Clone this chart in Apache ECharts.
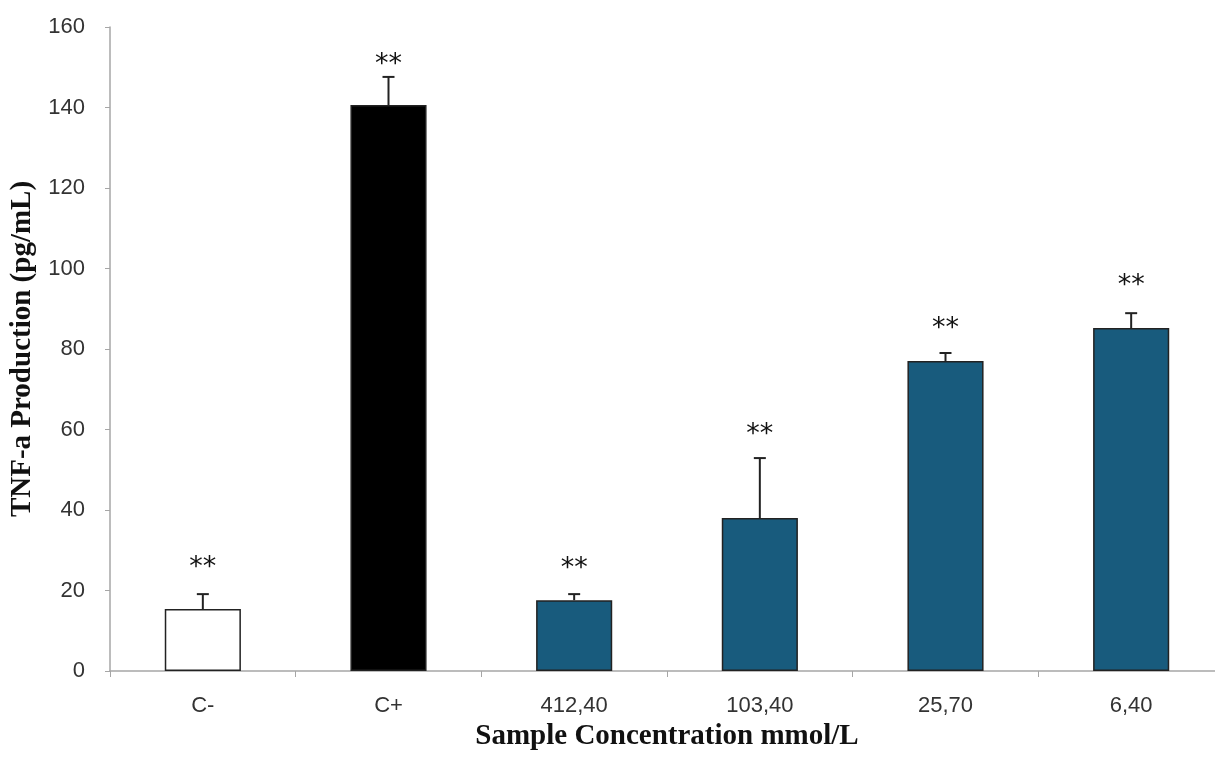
<!DOCTYPE html>
<html>
<head>
<meta charset="utf-8">
<script src="https://cdn.jsdelivr.net/npm/echarts@6/dist/echarts.min.js"></script>
<style>
html,body{margin:0;padding:0;background:#fff;}
#chart{width:1215px;height:758px;}
</style>
</head>
<body>
<div id="chart"></div>
<script>
const categories = ['C-', 'C+', '412,40', '103,40', '25,70', '6,40'];
const means = [15.4, 140.6, 17.6, 38.0, 77.0, 85.2];
const errors = [3.7, 7.0, 1.5, 14.9, 2.0, 3.7];
const significance = ['**', '**', '**', '**', '**', '**'];
const significanceY = [27.0, 152.0, 26.8, 60.1, 86.5, 97.1];
const barColors = ['#ffffff', '#000000', '#185b7d', '#185b7d', '#185b7d', '#185b7d'];
const yTicks = [0, 20, 40, 60, 80, 100, 120, 140, 160];

const chart = echarts.init(document.getElementById('chart'));

const errData = categories.map((c, i) => [i, means[i], errors[i], significanceY[i]]);

chart.setOption({
  animation: false,
  grid: { left: 110, width: 1114, top: 27, bottom: 87, outerBoundsMode: 'none', containLabel: false },
  xAxis: {
    type: 'category',
    data: categories,
    name: 'Sample Concentration mmol/L',
    nameLocation: 'middle',
    nameGap: 46,
    nameTextStyle: { fontFamily: 'Liberation Serif, Times New Roman, serif', fontWeight: 'bold', fontSize: 29, color: '#111' },
    axisLine: { lineStyle: { color: '#a6a6a6', width: 1.5 } },
    axisTick: { show: true, length: 6, lineStyle: { color: '#a6a6a6' } },
    axisLabel: { margin: 24, fontSize: 22, color: '#333', fontFamily: 'Liberation Sans, Arial, sans-serif' },
    splitLine: { show: false }
  },
  yAxis: {
    type: 'value',
    min: yTicks[0],
    max: yTicks[yTicks.length - 1],
    interval: 20,
    name: 'TNF-a Production (pg/mL)',
    nameLocation: 'middle',
    nameGap: 64,
    nameRotate: 90,
    nameTextStyle: { fontFamily: 'Liberation Serif, Times New Roman, serif', fontWeight: 'bold', fontSize: 29, color: '#111' },
    axisLine: { show: true, lineStyle: { color: '#a6a6a6', width: 1.5 } },
    axisTick: { show: true, length: 5, lineStyle: { color: '#a6a6a6' } },
    axisLabel: { margin: 25, fontSize: 22, color: '#333', fontFamily: 'Liberation Sans, Arial, sans-serif' },
    splitLine: { show: false }
  },
  series: [
    {
      type: 'bar',
      barWidth: '41%',
      data: means.map((v, i) => ({
        value: v,
        itemStyle: { color: barColors[i], borderColor: '#222', borderWidth: 1.5 }
      })),
      z: 2
    },
    {
      type: 'custom',
      data: errData,
      z: 3,
      renderItem: function (params, api) {
        const x = api.value(0);
        const m = api.value(1);
        const e = api.value(2);
        const s = api.value(3);
        const p0 = api.coord([x, m]);
        const p1 = api.coord([x, m + e]);
        const ps = api.coord([x, s]);
        const cap = 6;
        return {
          type: 'group',
          children: [
            { type: 'line', shape: { x1: p0[0], y1: p0[1], x2: p1[0], y2: p1[1] }, style: { stroke: '#222', lineWidth: 2 } },
            { type: 'line', shape: { x1: p1[0] - cap, y1: p1[1], x2: p1[0] + cap, y2: p1[1] }, style: { stroke: '#222', lineWidth: 2 } },
            { type: 'text', x: ps[0], y: ps[1] + 6, style: { text: significance[params.dataIndex], fill: '#111', font: '27px DejaVu Sans, sans-serif', align: 'center', verticalAlign: 'middle' } }
          ]
        };
      }
    }
  ]
});
</script>
</body>
</html>
